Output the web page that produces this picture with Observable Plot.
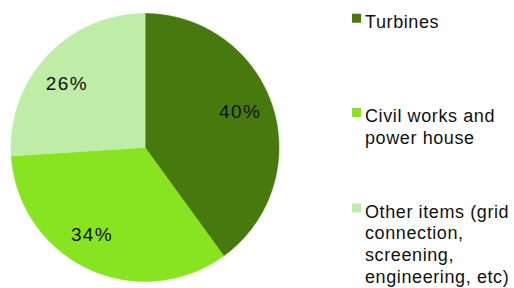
<!DOCTYPE html>
<html>
<head>
<meta charset="utf-8">
<script src="https://cdn.jsdelivr.net/npm/d3@7"></script>
<script src="https://cdn.jsdelivr.net/npm/@observablehq/plot@0.6"></script>
<style>
  html, body { margin: 0; padding: 0; background: #ffffff; }
  #chart { width: 514px; height: 288px; }
  #chart svg g.legend-text text { letter-spacing: 0.6px; }
  #chart svg g.pct-text text { letter-spacing: 1.4px; }
</style>
</head>
<body>
<div id="chart"></div>
<script>
// ---- data ----
const categories = ["Turbines", "Civil works and power house", "Other items (grid connection, screening, engineering, etc)"];
const values = [40, 34, 26];
const percentLabels = ["40%", "34%", "26%"];
const legendLabels = ["Turbines", "Civil works and\npower house", "Other items (grid\nconnection,\nscreening,\nengineering, etc)"];
const colors = ["#47790f", "#88e420", "#bfeda8"];

// ---- layout ----
const W = 514, H = 288;
const cx = 144.5, cy = 147, R = 134, labelR = 101;
const labelNudge = [[-1, -4.3], [-10, -4.4], [-4.4, 5.2]];
const legendFont = 18, legendLH = 21.8;
const legendBaselines = [24.7, 119, 214.5];
const legendTextX = 364.5, legendSquareX = 352, legendSquare = 9;

const arcs = d3.pie().sort(null).value(d => d)(values);

// polygon points for each slice (center + arc samples)
const slicePts = [];
arcs.forEach((a, i) => {
  const cat = categories[i];
  slicePts.push({cat, x: cx, y: cy});
  const n = Math.max(2, Math.ceil((a.endAngle - a.startAngle) / (Math.PI / 360)));
  for (let k = 0; k <= n; k++) {
    const t = a.startAngle + (a.endAngle - a.startAngle) * k / n;
    slicePts.push({cat, x: cx + R * Math.sin(t), y: cy - R * Math.cos(t)});
  }
});

const labelData = arcs.map((a, i) => {
  const m = (a.startAngle + a.endAngle) / 2;
  return {
    text: percentLabels[i],
    x: cx + labelR * Math.sin(m) + labelNudge[i][0],
    y: cy - labelR * Math.cos(m) + labelNudge[i][1]
  };
});

const legendData = categories.map((c, i) => ({
  cat: c,
  text: legendLabels[i],
  y: legendBaselines[i] - 0.71 * legendFont,
  sq: legendBaselines[i] - 0.71 * legendFont + 1.8
}));

const chart = Plot.plot({
  width: W,
  height: H,
  margin: 0,
  x: {domain: [0, W], range: [0, W], axis: null},
  y: {domain: [0, H], range: [0, H], axis: null},
  color: {domain: categories, range: colors},
  style: {fontFamily: "'Liberation Sans', Arial, sans-serif", background: "#ffffff"},
  marks: [
    Plot.line(slicePts, {x: "x", y: "y", z: "cat", fill: "cat", stroke: "cat", strokeWidth: 0.5, curve: "linear-closed"}),
    Plot.text(labelData, {x: "x", y: "y", text: "text", fontSize: 19, fill: "#111", lineAnchor: "middle", textAnchor: "middle", className: "pct-text"}),
    Plot.rect(legendData, {x1: legendSquareX, x2: legendSquareX + legendSquare, y1: "sq", y2: d => d.sq + legendSquare, fill: "cat"}),
    Plot.text(legendData, {x: legendTextX, y: "y", text: "text", fontSize: legendFont, fill: "#111", textAnchor: "start", lineAnchor: "top", lineHeight: legendLH / legendFont, className: "legend-text"})
  ]
});
document.getElementById("chart").appendChild(chart);
</script>
</body>
</html>
